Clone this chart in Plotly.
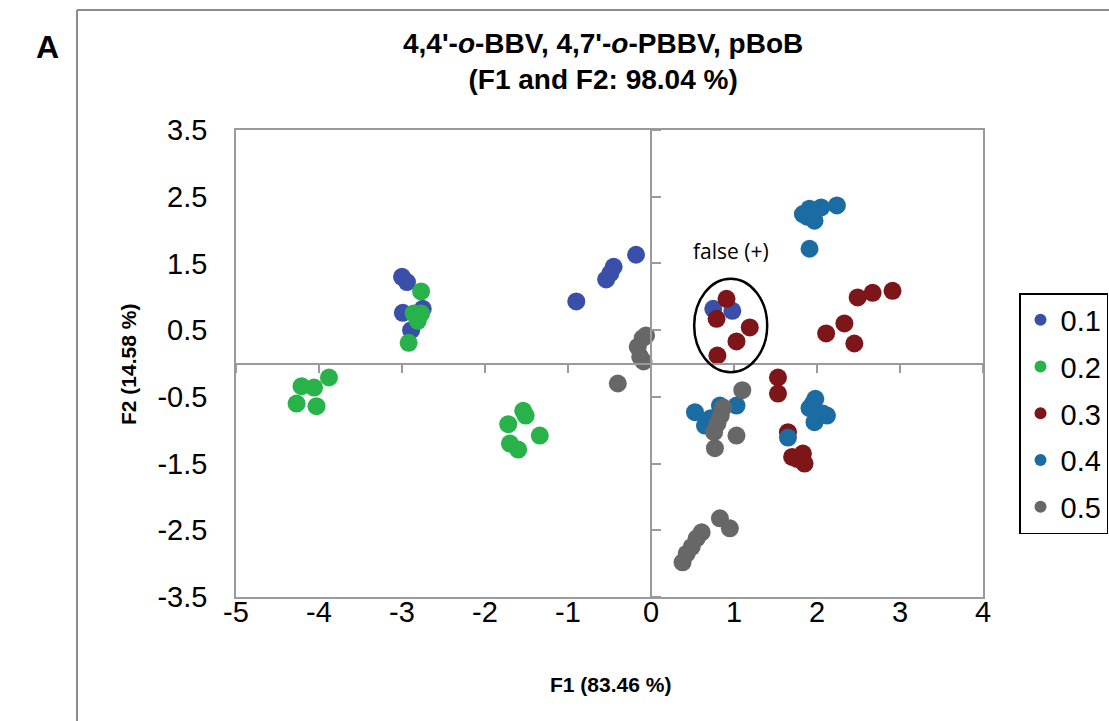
import plotly.graph_objects as go

# PCA scores (F1, F2) per group
groups = ["0.1", "0.2", "0.3", "0.4", "0.5"]
colors = ["#3A4FAA", "#27B34A", "#7E1518", "#1B6CA2", "#676767"]

f1_01 = [-3.00, -2.94, -2.99, -2.75, -2.89, -0.90, -0.54, -0.49, -0.45, -0.18, 0.75, 0.98]
f2_01 = [1.30, 1.22, 0.76, 0.82, 0.50, 0.93, 1.26, 1.35, 1.45, 1.63, 0.82, 0.79]

f1_02 = [-2.77, -2.86, -2.77, -2.81, -2.92, -3.88, -4.21, -4.06, -4.27, -4.03,
         -1.54, -1.51, -1.72, -1.34, -1.70, -1.60]
f2_02 = [1.08, 0.75, 0.75, 0.64, 0.31, -0.21, -0.34, -0.36, -0.60, -0.64,
         -0.71, -0.78, -0.91, -1.08, -1.20, -1.29]

f1_03 = [0.91, 0.79, 1.19, 1.03, 0.80, 2.11, 2.33, 2.45, 2.49, 2.67, 2.91,
         1.53, 1.53, 1.65, 1.70, 1.83, 1.85, 1.76]
f2_03 = [0.97, 0.67, 0.54, 0.33, 0.12, 0.45, 0.60, 0.30, 0.99, 1.06, 1.09,
         -0.21, -0.45, -1.03, -1.40, -1.35, -1.50, -1.43]

f1_04 = [1.91, 1.83, 1.97, 2.05, 2.24, 1.88, 1.91, 0.53, 0.83, 1.03, 0.65, 0.72,
         1.65, 1.95, 2.07, 1.97, 1.91, 2.12, 1.98]
f2_04 = [2.32, 2.24, 2.14, 2.34, 2.37, 2.20, 1.72, -0.73, -0.63, -0.63, -0.93, -0.82,
         -1.11, -0.60, -0.75, -0.88, -0.67, -0.78, -0.53]

f1_05 = [-0.10, -0.06, -0.16, -0.13, -0.09, -0.40, 1.10, 0.87, 0.84, 0.80, 0.76, 1.03, 0.77,
         0.83, 0.95, 0.61, 0.55, 0.49, 0.43, 0.38]
f2_05 = [0.38, 0.42, 0.25, 0.10, 0.03, -0.30, -0.40, -0.66, -0.78, -0.90, -1.03, -1.08, -1.27,
         -2.32, -2.47, -2.53, -2.62, -2.75, -2.85, -2.98]

series_x = [f1_01, f1_02, f1_03, f1_04, f1_05]
series_y = [f2_01, f2_02, f2_03, f2_04, f2_05]

x_ticks = [-5, -4, -3, -2, -1, 0, 1, 2, 3, 4]
y_ticks = [-3.5, -2.5, -1.5, -0.5, 0.5, 1.5, 2.5, 3.5]
x_range = [-5, 4]
y_range = [-3.5, 3.5]

# highlighted "false (+)" region
ell_center = (0.96, 0.57)
ell_radii = (0.44, 0.70)

W, H = 1109, 721
L, R, T, B = 236, 126, 130, 124
pw, ph = W - L - R, H - T - B


def px(x):
    return (x - L) / pw


def py(y):
    return (H - B - y) / ph


FONT = "Liberation Sans, Arial, sans-serif"
AXIS_GRAY = "#9a9a9a"
TICK_SIZE = 29

fig = go.Figure()
for name, xs, ys, c in zip(groups, series_x, series_y, colors):
    fig.add_trace(go.Scatter(
        x=xs, y=ys, mode="markers", name=name, legendgroup=name,
        marker=dict(size=18, color=c, line=dict(width=0)),
    ))

# invisible trace to carry the zero-crossing axes
fig.add_trace(go.Scatter(x=[None], y=[None], xaxis="x2", yaxis="y2", showlegend=False))

x_zero_frac = (0 - x_range[0]) / (x_range[1] - x_range[0])
y_zero_frac = (0 - y_range[0]) / (y_range[1] - y_range[0])

fig.update_layout(
    width=W, height=H, autosize=False,
    margin=dict(l=L, r=R, t=T, b=B, pad=0, autoexpand=False),
    paper_bgcolor="white", plot_bgcolor="white",
    font=dict(family=FONT, color="black"),
    xaxis=dict(range=x_range, tickvals=x_ticks, ticktext=[str(v) for v in x_ticks],
               showgrid=False, zeroline=False, showline=True, mirror=True,
               linecolor=AXIS_GRAY, linewidth=1.5, ticks="", automargin=False,
               tickfont=dict(size=TICK_SIZE, family=FONT), ticklabelstandoff=-12),
    yaxis=dict(range=y_range, tickvals=y_ticks, ticktext=[f"{v:.1f}" for v in y_ticks],
               showgrid=False, zeroline=False, showline=True, mirror=True,
               linecolor=AXIS_GRAY, linewidth=1.5, ticks="", automargin=False,
               tickfont=dict(size=TICK_SIZE, family=FONT), ticklabelstandoff=21),
    xaxis2=dict(range=x_range, tickvals=x_ticks, overlaying="x", anchor="free",
                position=y_zero_frac, side="bottom", showgrid=False, zeroline=False,
                showline=True, linecolor=AXIS_GRAY, linewidth=1.5, ticks="outside",
                ticklen=9, tickwidth=1.5, tickcolor=AXIS_GRAY, showticklabels=False),
    yaxis2=dict(range=y_range, tickvals=y_ticks, overlaying="y", anchor="free",
                position=x_zero_frac, side="right", showgrid=False, zeroline=False,
                showline=True, linecolor=AXIS_GRAY, linewidth=1.5, ticks="outside",
                ticklen=9, tickwidth=1.5, tickcolor=AXIS_GRAY, showticklabels=False),
    legend=dict(xref="container", yref="container", x=1019 / W, y=1 - 293 / H,
                xanchor="left", yanchor="top",
                bordercolor="black", borderwidth=1.5, bgcolor="white",
                font=dict(size=TICK_SIZE, family=FONT), tracegroupgap=6,
                itemsizing="constant"),
    showlegend=True,
)

# outer panel frame
fig.add_shape(type="line", xref="paper", yref="paper", x0=px(77), x1=px(77), y0=py(10), y1=py(H + 5),
              line=dict(color="#8c8c8c", width=2))
fig.add_shape(type="line", xref="paper", yref="paper", x0=px(77), x1=px(W + 5), y0=py(10), y1=py(10),
              line=dict(color="#8c8c8c", width=2))

# ellipse around the false positives
fig.add_shape(type="circle", xref="x", yref="y",
              x0=ell_center[0] - ell_radii[0], x1=ell_center[0] + ell_radii[0],
              y0=ell_center[1] - ell_radii[1], y1=ell_center[1] + ell_radii[1],
              line=dict(color="black", width=2.5))

fig.add_annotation(x=ell_center[0], y=ell_center[1] + ell_radii[1], xref="x", yref="y",
                   text="false (+)", showarrow=False, xanchor="center", yanchor="bottom", yshift=12,
                   font=dict(size=21, family="Open Sans, sans-serif", color="black"))

fig.add_annotation(x=px(48), y=py(47), xref="paper", yref="paper", text="<b>A</b>",
                   showarrow=False, xanchor="center", yanchor="middle",
                   font=dict(size=32, family=FONT))

fig.add_annotation(x=px(603), y=py(61), xref="paper", yref="paper",
                   text="<b>4,4'-<i>o</i>-BBV, 4,7'-<i>o</i>-PBBV, pBoB<br>(F1 and F2: 98.04 %)</b>",
                   showarrow=False, xanchor="center", yanchor="middle",
                   font=dict(size=28, family=FONT))

fig.add_annotation(x=px(610), y=py(684), xref="paper", yref="paper", text="<b>F1 (83.46 %)</b>",
                   showarrow=False, xanchor="center", yanchor="middle",
                   font=dict(size=21, family=FONT))
fig.add_annotation(x=px(128), y=py(365), xref="paper", yref="paper", text="<b>F2 (14.58 %)</b>",
                   showarrow=False, textangle=-90, xanchor="center", yanchor="middle",
                   font=dict(size=21, family=FONT))

fig.write_html("out.html")
